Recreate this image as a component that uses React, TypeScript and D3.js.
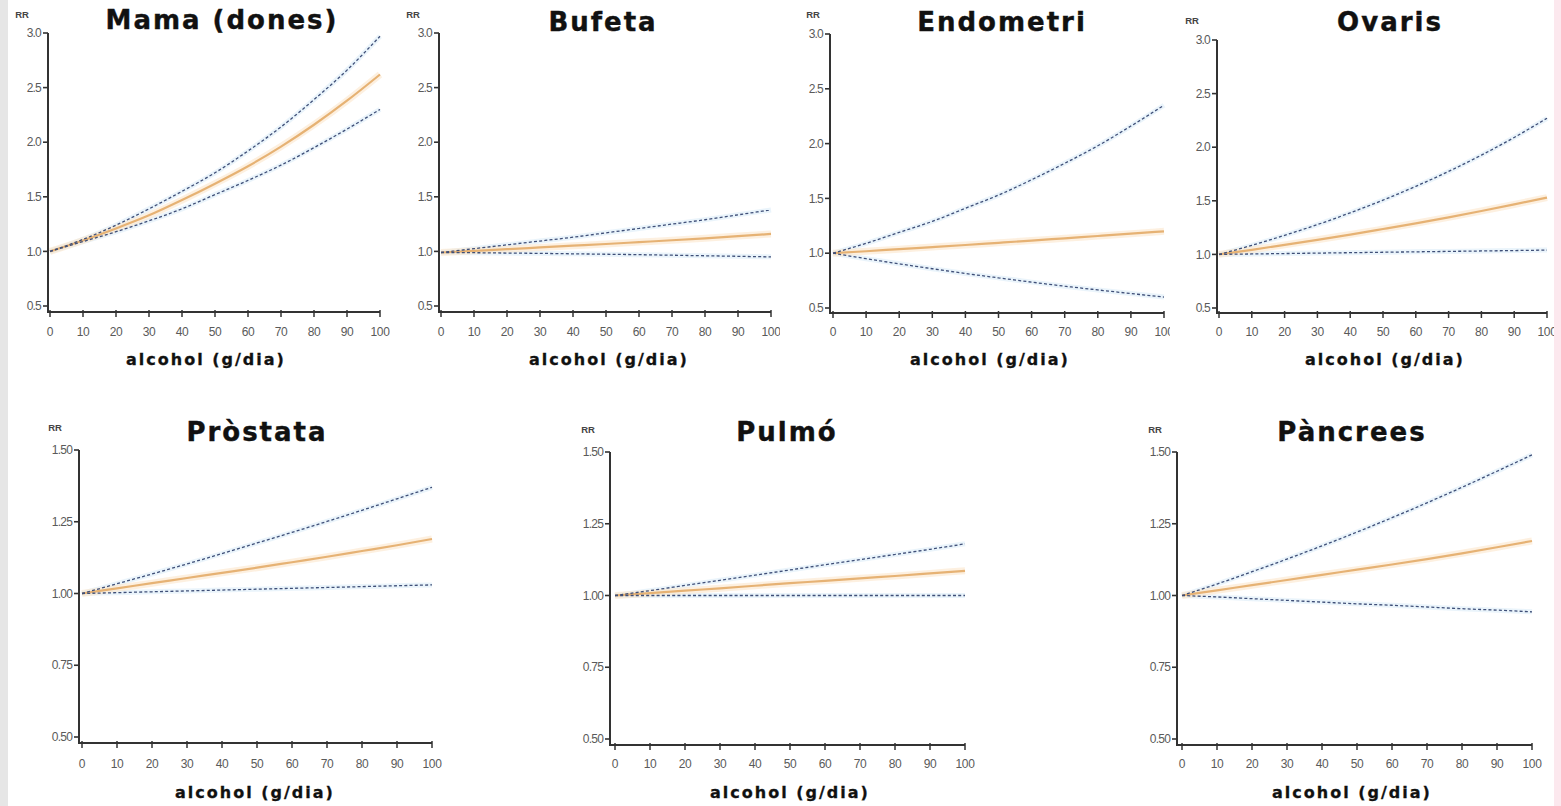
import React from "react";
import * as d3 from "d3";

// ---------- DATA ----------
const alcohol = [0, 10, 20, 30, 40, 50, 60, 70, 80, 90, 100];

const topTicks = [0.5, 1.0, 1.5, 2.0, 2.5, 3.0];
const bottomTicks = [0.5, 0.75, 1.0, 1.25, 1.5];
const xTicks = [0, 10, 20, 30, 40, 50, 60, 70, 80, 90, 100];

const mamaMean = [1.0, 1.1, 1.21, 1.33, 1.47, 1.62, 1.78, 1.96, 2.16, 2.38, 2.62];
const mamaUpper = [1.0, 1.11, 1.24, 1.39, 1.55, 1.72, 1.92, 2.14, 2.39, 2.66, 2.97];
const mamaLower = [1.0, 1.09, 1.18, 1.28, 1.39, 1.52, 1.65, 1.79, 1.95, 2.12, 2.3];

const bufetaMean = [0.99, 1.005, 1.02, 1.036, 1.052, 1.068, 1.085, 1.102, 1.12, 1.14, 1.16];
const bufetaUpper = [0.99, 1.025, 1.06, 1.095, 1.13, 1.17, 1.21, 1.25, 1.29, 1.335, 1.38];
const bufetaLower = [0.99, 0.988, 0.985, 0.982, 0.978, 0.974, 0.97, 0.965, 0.96, 0.955, 0.95];

const endoMean = [1.0, 1.018, 1.037, 1.056, 1.075, 1.095, 1.115, 1.136, 1.157, 1.178, 1.2];
const endoUpper = [1.0, 1.09, 1.19, 1.29, 1.41, 1.53, 1.67, 1.82, 1.98, 2.16, 2.35];
const endoLower = [1.0, 0.95, 0.903, 0.858, 0.815, 0.775, 0.736, 0.699, 0.665, 0.632, 0.6];

const ovarisMean = [1.0, 1.043, 1.089, 1.136, 1.185, 1.237, 1.29, 1.346, 1.405, 1.466, 1.53];
const ovarisUpper = [1.0, 1.085, 1.178, 1.278, 1.388, 1.506, 1.635, 1.774, 1.926, 2.091, 2.27];
const ovarisLower = [1.0, 1.004, 1.008, 1.012, 1.016, 1.02, 1.024, 1.028, 1.032, 1.036, 1.04];

const prostataMean = [1.0, 1.018, 1.036, 1.054, 1.072, 1.09, 1.109, 1.128, 1.148, 1.168, 1.19];
const prostataUpper = [1.0, 1.034, 1.068, 1.103, 1.139, 1.176, 1.213, 1.251, 1.29, 1.33, 1.37];
const prostataLower = [1.0, 1.003, 1.006, 1.009, 1.012, 1.015, 1.018, 1.021, 1.024, 1.027, 1.03];

const pulmoMean = [1.0, 1.008, 1.017, 1.025, 1.034, 1.043, 1.051, 1.06, 1.068, 1.077, 1.086];
const pulmoUpper = [1.0, 1.017, 1.035, 1.053, 1.071, 1.089, 1.107, 1.125, 1.143, 1.161, 1.18];
const pulmoLower = [1.0, 1.0, 1.0, 1.0, 1.0, 1.0, 1.0, 1.0, 1.0, 1.0, 1.0];

const pancreesMean = [1.0, 1.018, 1.036, 1.054, 1.072, 1.09, 1.108, 1.127, 1.147, 1.168, 1.19];
const pancreesUpper = [1.0, 1.04, 1.083, 1.127, 1.173, 1.221, 1.271, 1.323, 1.377, 1.433, 1.49];
const pancreesLower = [1.0, 0.995, 0.989, 0.983, 0.977, 0.971, 0.966, 0.96, 0.954, 0.949, 0.943];

const titles = ["Mama (dones)", "Bufeta", "Endometri", "Ovaris", "Pròstata", "Pulmó", "Pàncrees"];
const xLabel = "alcohol (g/dia)";
const yLabel = "RR";

// ---------- LAYOUT ----------
type Layout = {
  axisX: number; x0: number; x1: number; yTop: number; yBot: number; xAxisY: number;
  titleX: number; titleY: number; rrX: number; rrY: number; xlabX: number; xlabY: number; tickLabY: number;
  clip: [number, number];
};

const topLayouts: Layout[] = [
  { axisX: 48, x0: 50, x1: 380, yTop: 33, yBot: 306, xAxisY: 312, titleX: 222, titleY: 29, rrX: 22, rrY: 18, xlabX: 206, xlabY: 365, tickLabY: 336, clip: [8, 390] },
  { axisX: 439, x0: 441, x1: 771, yTop: 33, yBot: 306, xAxisY: 312, titleX: 603, titleY: 31, rrX: 413, rrY: 18, xlabX: 609, xlabY: 365, tickLabY: 336, clip: [390, 780] },
  { axisX: 830, x0: 833, x1: 1164, yTop: 34, yBot: 308, xAxisY: 313, titleX: 1002, titleY: 31, rrX: 813, rrY: 18, xlabX: 990, xlabY: 365, tickLabY: 336, clip: [780, 1170] },
  { axisX: 1217, x0: 1219, x1: 1547, yTop: 40, yBot: 308, xAxisY: 313, titleX: 1390, titleY: 31, rrX: 1192, rrY: 24, xlabX: 1385, xlabY: 365, tickLabY: 336, clip: [1170, 1555] },
];

const bottomLayouts: Layout[] = [
  { axisX: 79, x0: 82, x1: 432, yTop: 450, yBot: 737, xAxisY: 743, titleX: 257, titleY: 441, rrX: 55, rrY: 431, xlabX: 255, xlabY: 798, tickLabY: 768, clip: [8, 560] },
  { axisX: 610, x0: 615, x1: 965, yTop: 452, yBot: 739, xAxisY: 745, titleX: 787, titleY: 441, rrX: 588, rrY: 433, xlabX: 790, xlabY: 798, tickLabY: 768, clip: [560, 1100] },
  { axisX: 1177, x0: 1182, x1: 1532, yTop: 452, yBot: 739, xAxisY: 745, titleX: 1352, titleY: 441, rrX: 1155, rrY: 433, xlabX: 1352, xlabY: 798, tickLabY: 768, clip: [1100, 1555] },
];

type PanelProps = {
  id: string;
  title: string;
  layout: Layout;
  yTicks: number[];
  fmt: string;
  mean: number[];
  upper: number[];
  lower: number[];
};

function Panel({ id, title, layout: L, yTicks, fmt, mean, upper, lower }: PanelProps) {
  const x = d3.scaleLinear().domain([0, 100]).range([L.x0, L.x1]);
  const y = d3
    .scaleLinear()
    .domain([yTicks[0], yTicks[yTicks.length - 1]])
    .range([L.yBot, L.yTop]);
  const f = d3.format(fmt);
  const line = (vals: number[]) =>
    d3
      .line<number>()
      .x((_, i) => x(alcohol[i]))
      .y((v) => y(v))
      .curve(d3.curveMonotoneX)(vals) || "";

  const tickFont = "'Liberation Sans', Arial, sans-serif";
  const boldFont = "'DejaVu Sans', Verdana, sans-serif";

  return (
    <g clipPath={`url(#clip-${id})`}>
      <defs>
        <clipPath id={`clip-${id}`}>
          <rect x={L.clip[0]} y={0} width={L.clip[1] - L.clip[0]} height={806} />
        </clipPath>
      </defs>
      <text x={L.titleX} y={L.titleY} textAnchor="middle" fontFamily={boldFont} fontWeight="bold" fontSize={26} letterSpacing={2} fill="#111" stroke="#111" strokeWidth={0.4}>
        {title}
      </text>
      <text x={L.rrX} y={L.rrY} textAnchor="middle" fontFamily={tickFont} fontWeight="bold" fontSize={9.5} fill="#444">
        {yLabel}
      </text>

      {/* lines: halos */}
      <path d={line(upper)} fill="none" stroke="#d6e9f7" strokeWidth={5} strokeOpacity={0.5} />
      <path d={line(lower)} fill="none" stroke="#d6e9f7" strokeWidth={5} strokeOpacity={0.5} />
      <path d={line(mean)} fill="none" stroke="#fbe6cc" strokeWidth={7} strokeOpacity={0.6} />
      <path d={line(mean)} fill="none" stroke="#e6b274" strokeWidth={2.2} />
      <path d={line(upper)} fill="none" stroke="#3f4f78" strokeWidth={1.3} strokeDasharray="3,2.2" />
      <path d={line(lower)} fill="none" stroke="#3f4f78" strokeWidth={1.3} strokeDasharray="3,2.2" />

      {/* y axis */}
      <line x1={L.axisX} x2={L.axisX} y1={L.yTop} y2={L.xAxisY + 1} stroke="#333" strokeWidth={2} />
      {yTicks.map((t) => (
        <g key={t}>
          <line x1={L.axisX - 5} x2={L.axisX} y1={y(t)} y2={y(t)} stroke="#333" strokeWidth={1.6} />
          <text x={L.axisX - 7} y={y(t)} dy="0.35em" textAnchor="end" fontFamily={tickFont} fontSize={12} letterSpacing={-0.8} fill="#5a5a5a">
            {f(t)}
          </text>
        </g>
      ))}

      {/* x axis */}
      <line x1={L.axisX - 1} x2={L.x1} y1={L.xAxisY} y2={L.xAxisY} stroke="#333" strokeWidth={2} />
      {xTicks.map((t) => (
        <g key={t}>
          <line x1={x(t)} x2={x(t)} y1={L.xAxisY - 2} y2={L.xAxisY + 5} stroke="#333" strokeWidth={1.5} />
          <text x={x(t)} y={L.tickLabY} textAnchor="middle" fontFamily={tickFont} fontSize={12} letterSpacing={-0.3} fill="#5a5a5a">
            {t}
          </text>
        </g>
      ))}
      <text x={L.xlabX} y={L.xlabY} textAnchor="middle" fontFamily={boldFont} fontWeight="bold" fontSize={16} letterSpacing={2} fill="#111" stroke="#111" strokeWidth={0.3}>
        {xLabel}
      </text>
    </g>
  );
}

export default function App() {
  const top = [
    { mean: mamaMean, upper: mamaUpper, lower: mamaLower },
    { mean: bufetaMean, upper: bufetaUpper, lower: bufetaLower },
    { mean: endoMean, upper: endoUpper, lower: endoLower },
    { mean: ovarisMean, upper: ovarisUpper, lower: ovarisLower },
  ];
  const bottom = [
    { mean: prostataMean, upper: prostataUpper, lower: prostataLower },
    { mean: pulmoMean, upper: pulmoUpper, lower: pulmoLower },
    { mean: pancreesMean, upper: pancreesUpper, lower: pancreesLower },
  ];
  return (
    <svg width={1561} height={806} style={{ position: "absolute", left: 0, top: 0, background: "#fff" }}>
      <rect x={0} y={0} width={1561} height={806} fill="#fff" />
      {top.map((s, i) => (
        <Panel key={i} id={`t${i}`} title={titles[i]} layout={topLayouts[i]} yTicks={topTicks} fmt=".1f" {...s} />
      ))}
      {bottom.map((s, i) => (
        <Panel key={i} id={`b${i}`} title={titles[4 + i]} layout={bottomLayouts[i]} yTicks={bottomTicks} fmt=".2f" {...s} />
      ))}
      <rect x={0} y={0} width={8} height={806} fill="#e6e6e6" />
      <rect x={1554} y={0} width={7} height={806} fill="#fce8ee" />
    </svg>
  );
}
